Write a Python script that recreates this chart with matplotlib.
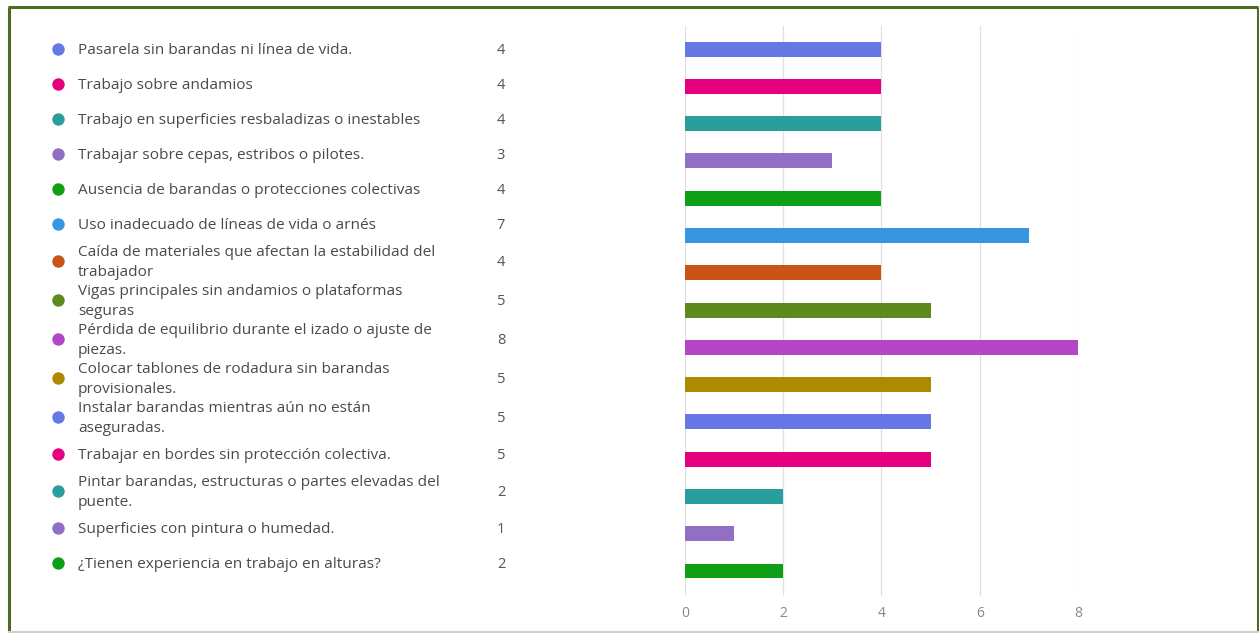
import matplotlib
matplotlib.use("Agg")
import matplotlib.pyplot as plt

plt.rcParams['font.family'] = ['Open Sans', 'DejaVu Sans']

# datos de la encuesta
categorias = [
    "Pasarela sin barandas ni línea de vida.",
    "Trabajo sobre andamios",
    "Trabajo en superficies resbaladizas o inestables",
    "Trabajar sobre cepas, estribos o pilotes.",
    "Ausencia de barandas o protecciones colectivas",
    "Uso inadecuado de líneas de vida o arnés",
    "Caída de materiales que afectan la estabilidad del\ntrabajador",
    "Vigas principales sin andamios o plataformas\nseguras",
    "Pérdida de equilibrio durante el izado o ajuste de\npiezas.",
    "Colocar tablones de rodadura sin barandas\nprovisionales.",
    "Instalar barandas mientras aún no están\naseguradas.",
    "Trabajar en bordes sin protección colectiva.",
    "Pintar barandas, estructuras o partes elevadas del\npuente.",
    "Superficies con pintura o humedad.",
    "¿Tienen experiencia en trabajo en alturas?",
]
valores = [4, 4, 4, 3, 4, 7, 4, 5, 8, 5, 5, 5, 2, 1, 2]
colores = [
    "#6578E6", "#E5007F", "#2A9E9C", "#916FC4", "#0E9F16",
    "#3696E0", "#CA5416", "#5C8A20", "#B346C6", "#AE8A00",
    "#6578E6", "#E5007F", "#2A9E9C", "#916FC4", "#0E9F16",
]
ticks_x = [0, 2, 4, 6, 8]

W, H = 1259, 633
fig = plt.figure(figsize=(W / 100, H / 100), dpi=100)

# capa de fondo en pixeles: borde, leyenda y conteos
bg = fig.add_axes([0, 0, 1, 1])
bg.set_xlim(0, W)
bg.set_ylim(H, 0)
bg.axis("off")
verde = "#4F6A22"
bg.plot([9, 9], [7, 632], color=verde, lw=2.2, solid_capstyle="butt")
bg.plot([8, 1258], [7, 7], color=verde, lw=2.2, solid_capstyle="butt")
bg.plot([1258, 1258], [7, 632], color=verde, lw=2.2, solid_capstyle="butt")
bg.plot([9, 1258], [632, 632], color="#D0D0D0", lw=1.5)

y = 31.5
for cat, val, col in zip(categorias, valores, colores):
    h = 39 if "\n" in cat else 35
    yc = y + h / 2
    bg.scatter([58], [yc], s=80, color=col, zorder=3, linewidths=0)
    bg.text(78, yc + 1.5, cat, fontsize=11.1, color="#4A4A4A", va="center",
            ha="left", linespacing=1.43)
    bg.text(501, yc + 1.5, str(val), fontsize=10.5, color="#555555",
            va="center", ha="center")
    y += h

# grafico de barras
left, right, top, bottom = 685, 1078, 26, 596
ax = fig.add_axes([left / W, 1 - bottom / H, (right - left) / W, (bottom - top) / H])
ax.patch.set_alpha(0)
pos = list(range(len(valores)))
ax.barh(pos, valores, height=0.4, color=colores, zorder=3)
ax.set_ylim(14.67, -0.62)
ax.set_xlim(0, 8)
ax.set_xticks(ticks_x)
ax.set_xticklabels([str(t) for t in ticks_x], color="#888888", fontsize=10)
ax.set_yticks([])
ax.tick_params(axis="x", length=0, pad=7)
ax.grid(axis="x", color="#E0E0E0", lw=0.9, zorder=0)
for s in ax.spines.values():
    s.set_visible(False)

fig.savefig("out.png", dpi=100)
